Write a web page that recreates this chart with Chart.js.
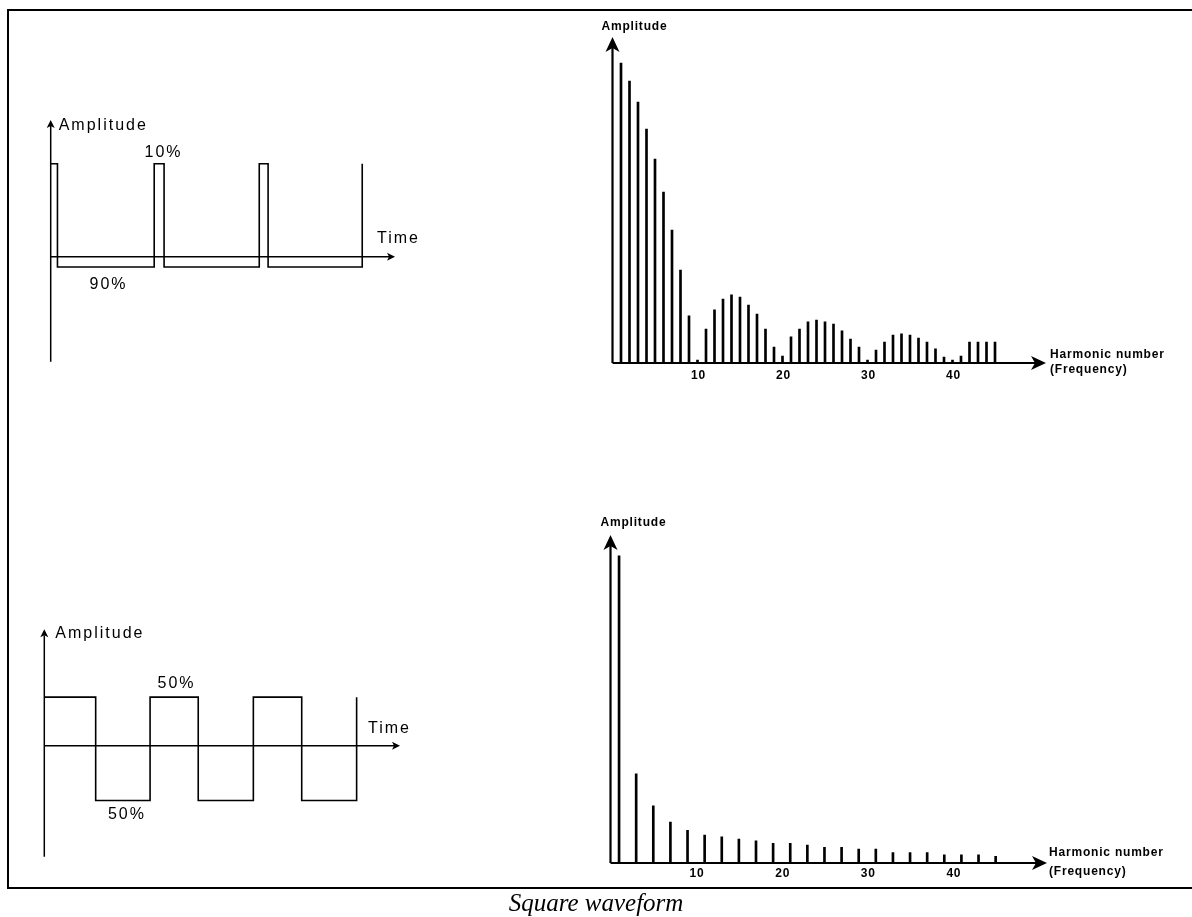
<!DOCTYPE html>
<html>
<head>
<meta charset="utf-8">
<script src="https://cdn.jsdelivr.net/npm/chart.js@4.4.1/dist/chart.umd.min.js"></script>
<style>
  html, body { margin: 0; padding: 0; background: #fff; }
  #page { position: relative; width: 1192px; height: 917px; overflow: hidden; }
  #page canvas { position: absolute; left: 0; top: 0; }
  #frame { position: absolute; left: 7px; top: 9px; width: 1200px; height: 880px;
           border: 2px solid #000; box-sizing: border-box; }
  #caption { position: absolute; left: 0; top: 889px; width: 1192px; text-align: center;
             font: italic 25px 'Liberation Serif', 'Times New Roman', serif; color: #000; }
</style>
</head>
<body>
<div id="page">
  <div id="frame"></div>
  <canvas id="pulseWave" width="1192" height="917"></canvas>
  <canvas id="pulseSpectrum" width="1192" height="917"></canvas>
  <canvas id="squareWave" width="1192" height="917"></canvas>
  <canvas id="squareSpectrum" width="1192" height="917"></canvas>
  <div id="caption">Square waveform</div>
</div>
<script>
// time in periods, amplitude relative to peak-to-peak
var pulseTimes  = [0, 0.065, 0.995, 1.09, 2.005, 2.09, 2.995];
var pulseLevels = [0.9, -0.1, 0.9, -0.1, 0.9, -0.1, 0.9];

var squareTimes  = [0, 0.494, 1.017, 1.48, 2.01, 2.475, 3.003];
var squareLevels = [0.47, -0.53, 0.47, -0.53, 0.47, -0.53, 0.47];

// harmonic amplitudes, % of the fundamental
var pulseHarmonics = [1, 2, 3, 4, 5, 6, 7, 8, 9, 10, 11, 12, 13, 14, 15, 16, 17, 18, 19, 20,
  21, 22, 23, 24, 25, 26, 27, 28, 29, 30, 31, 32, 33, 34, 35, 36, 37, 38, 39, 40, 41, 42, 43, 44, 45];
var pulseAmplitudes = [100, 94, 87, 78, 68, 57, 44.3, 31, 15.7, 1, 11.3, 17.7, 21.3, 22.7, 22, 19.3, 16.3, 11.3, 5.3, 2.3,
  8.7, 11.3, 13.7, 14.3, 13.7, 13, 10.7, 8, 5.3, 1, 4.3, 7, 9.3, 9.7, 9.3, 8.3, 7, 4.7, 2, 1, 2.3, 7, 7, 7, 7];

var squareHarmonics = [1, 3, 5, 7, 9, 11, 13, 15, 17, 19, 21, 23, 25, 27, 29, 31, 33, 35, 37, 39, 41, 43, 45];
var squareAmplitudes = [100, 29, 18.6, 13.3, 10.6, 9.1, 8.5, 7.8, 7.2, 6.4, 6.4, 5.8, 5.1, 5.1, 4.5, 4.5,
  3.4, 3.4, 3.4, 2.7, 2.7, 2.7, 2.2];

var harmonicTicks = ['10', '20', '30', '40'];

function points(xs, ys) {
  return xs.map(function(v, i) { return { x: v, y: ys[i] }; });
}

function arrowHead(ctx, tx, ty, dx, dy, len, hw, notch) {
  var bx = tx - dx * len, by = ty - dy * len;
  var px = -dy, py = dx;
  ctx.beginPath();
  ctx.moveTo(tx, ty);
  ctx.lineTo(bx + px * hw, by + py * hw);
  ctx.lineTo(tx - dx * (len - notch), ty - dy * (len - notch));
  ctx.lineTo(bx - px * hw, by - py * hw);
  ctx.closePath();
  ctx.fill();
}

// axes with arrow heads, labels and harmonic ticks drawn from the chart scales
var sketchAxes = {
  id: 'sketchAxes',
  afterDatasetsDraw: function(chart, args, o) {
    var ctx = chart.ctx, sx = chart.scales.x, sy = chart.scales.y, a = chart.chartArea;
    var x0 = sx.getPixelForValue(0), y0 = sy.getPixelForValue(0);
    ctx.save();
    ctx.strokeStyle = '#000';
    ctx.fillStyle = '#000';
    ctx.lineWidth = o.lineWidth;
    ctx.beginPath();
    ctx.moveTo(x0, a.bottom);
    ctx.lineTo(x0, a.top + o.head - o.notch);
    ctx.moveTo(x0, y0);
    ctx.lineTo(a.right - o.head + o.notch, y0);
    ctx.stroke();
    arrowHead(ctx, x0, a.top, 0, -1, o.head, o.headWidth, o.notch);
    arrowHead(ctx, a.right, y0, 1, 0, o.head, o.headWidth, o.notch);

    ctx.font = o.font;
    ctx.letterSpacing = o.spacing;
    ctx.textBaseline = 'middle';
    o.texts.forEach(function(t) {
      ctx.textAlign = t.align || 'center';
      ctx.fillText(t.text, sx.getPixelForValue(t.x) + (t.dx || 0), sy.getPixelForValue(t.y) + (t.dy || 0));
    });
    if (o.ticks) {
      ctx.textAlign = 'center';
      o.ticks.forEach(function(lbl) {
        ctx.fillText(lbl, sx.getPixelForValue(+lbl) + 1, y0 + o.tickOffset);
      });
    }
    ctx.restore();
  }
};

function makeChart(id, type, dataset, pad, xMax, yMin, yMax, axes) {
  return new Chart(document.getElementById(id), {
    type: type,
    data: { datasets: [dataset] },
    options: {
      responsive: false,
      animation: false,
      events: [],
      layout: { padding: pad },
      scales: {
        x: { type: 'linear', min: 0, max: xMax, display: false, offset: false },
        y: { type: 'linear', min: yMin, max: yMax, display: false }
      },
      plugins: { legend: { display: false }, tooltip: { enabled: false }, sketchAxes: axes }
    },
    plugins: [sketchAxes]
  });
}

function waveSet(xs, ys) {
  // 'before': hold the previous level, then jump at the next time
  return { data: points(xs, ys), stepped: 'before', borderColor: '#000', borderWidth: 1.6,
           pointRadius: 0, fill: false, clip: false };
}

function barSet(xs, ys) {
  return { data: points(xs, ys), backgroundColor: '#000', borderWidth: 0, barThickness: 2 };
}

var waveAxes = { lineWidth: 1.5, head: 8, headWidth: 4, notch: 2,
                 font: "16px 'Liberation Sans', Arial, sans-serif", spacing: '2px' };
var specAxes = { lineWidth: 2.2, head: 15, headWidth: 7, notch: 4, tickOffset: 13,
                 font: "bold 12px 'Liberation Sans', Arial, sans-serif", spacing: '0.8px' };

makeChart('pulseWave', 'line', waveSet(pulseTimes, pulseLevels),
  { left: 50.7, right: 797, top: 120, bottom: 555.3 }, 3.31, -1.016, 1.323,
  Object.assign({}, waveAxes, { texts: [
    { text: 'Amplitude', x: 0, y: 1.323, dx: 8, dy: 6, align: 'left' },
    { text: 'Time', x: 3.31, y: 0, dx: -18, dy: -18, align: 'left' },
    { text: '10%', x: 1.085, y: 1.01 },
    { text: '90%', x: 0.556, y: -0.274 }
  ] }));

makeChart('squareWave', 'line', waveSet(squareTimes, squareLevels),
  { left: 44.3, right: 792, top: 629.3, bottom: 60.3 }, 3.42, -1.073, 1.126,
  Object.assign({}, waveAxes, { texts: [
    { text: 'Amplitude', x: 0, y: 1.126, dx: 11, dy: 4, align: 'left' },
    { text: 'Time', x: 3.42, y: 0, dx: -32, dy: -17, align: 'left' },
    { text: '50%', x: 1.271, y: 0.597 },
    { text: '50%', x: 0.795, y: -0.67 }
  ] }));

makeChart('pulseSpectrum', 'bar', barSet(pulseHarmonics, pulseAmplitudes),
  { left: 612.5, right: 146, top: 37, bottom: 554 }, 51, 0, 108.7,
  Object.assign({}, specAxes, { ticks: harmonicTicks, texts: [
    { text: 'Amplitude', x: 0, y: 108.7, dx: -11, dy: -10, align: 'left' },
    { text: 'Harmonic number', x: 51, y: 0, dx: 4, dy: -8, align: 'left' },
    { text: '(Frequency)', x: 51, y: 0, dx: 4, dy: 7, align: 'left' }
  ] }));

makeChart('squareSpectrum', 'bar', barSet(squareHarmonics, squareAmplitudes),
  { left: 610.5, right: 145, top: 535, bottom: 54 }, 51, 0, 106.8,
  Object.assign({}, specAxes, { ticks: harmonicTicks, tickOffset: 11, texts: [
    { text: 'Amplitude', x: 0, y: 106.8, dx: -10, dy: -12, align: 'left' },
    { text: 'Harmonic number', x: 51, y: 0, dx: 2, dy: -10, align: 'left' },
    { text: '(Frequency)', x: 51, y: 0, dx: 2, dy: 9, align: 'left' }
  ] }));
</script>
</body>
</html>
